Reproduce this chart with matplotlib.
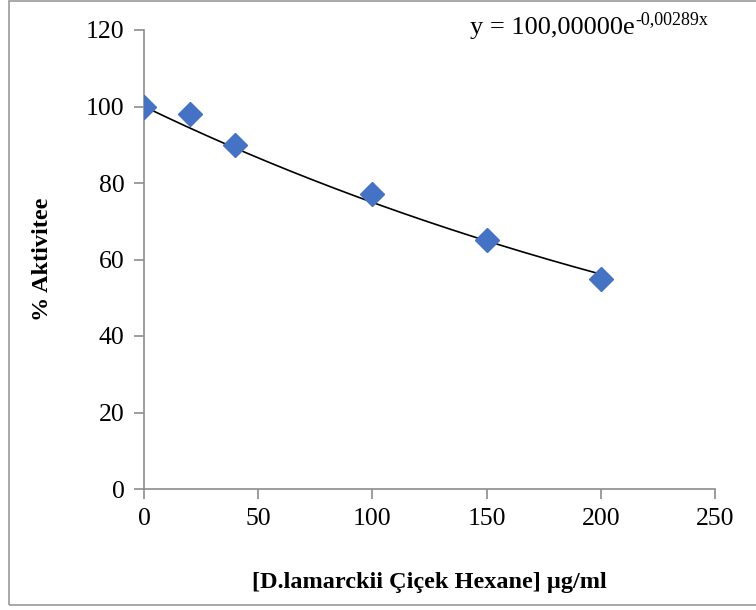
import numpy as np
import matplotlib
matplotlib.use("Agg")
import matplotlib.pyplot as plt
from matplotlib.patches import Rectangle

conc = [0, 20, 40, 100, 150, 200]
activity = [100, 98, 90, 77, 65, 55]
x_ticks = [0, 50, 100, 150, 200, 250]
y_ticks = [0, 20, 40, 60, 80, 100, 120]

plt.rcParams['font.family'] = ['Liberation Serif', 'DejaVu Serif']

fig = plt.figure(figsize=(7.56, 6.10), dpi=100)
fig.patch.set_facecolor('white')

# outer chart frame
frame = Rectangle((9/756, 5/610), 1.2, 604/610, transform=fig.transFigure,
                  fill=False, edgecolor='#9a9a9a', linewidth=1.2, clip_on=False)
fig.patches.append(frame)

ax = fig.add_axes([144/756, (610-489)/610, (715-144)/756, (489-30)/610])

# exponential trendline, intercept fixed at 100 (as in the equation)
x = np.array(conc, dtype=float)
y = np.array(activity, dtype=float)
b = np.sum(x * np.log(y / 100)) / np.sum(x * x)
xf = np.linspace(0, 200, 200)
ax.plot(xf, 100 * np.exp(b * xf), color='black', lw=1.2, zorder=2)

ax.plot(conc, activity, 'D', color='#4472C4', ms=12.5, mec='#4472C4', zorder=3)

ax.set_xlim(0, 250)
ax.set_ylim(0, 120)
ax.set_xticks(x_ticks)
ax.set_yticks(y_ticks)
for s in ['top', 'right']:
    ax.spines[s].set_visible(False)
for s in ['left', 'bottom']:
    ax.spines[s].set_color('#8c8c8c')
    ax.spines[s].set_linewidth(1.2)
ax.tick_params(direction='out', length=7, width=1.2, color='#8c8c8c',
               labelsize=18.5, pad=7)

ax.set_xlabel('[D.lamarckii Çiçek Hexane] µg/ml', fontsize=17.5,
              fontweight='bold', labelpad=30)
ax.set_ylabel('% Aktivitee', fontsize=17.5, fontweight='bold', labelpad=24)

eq = fig.text(470/756, 1 - 34/610, 'y = 100,00000e', fontsize=19,
              ha='left', va='baseline')
ax.annotate('-0,00289x', xy=(1, 0.5), xycoords=eq, xytext=(0.5, 0),
            textcoords='offset points', fontsize=13, ha='left', va='bottom',
            annotation_clip=False)

fig.savefig('out.png', dpi=100)
